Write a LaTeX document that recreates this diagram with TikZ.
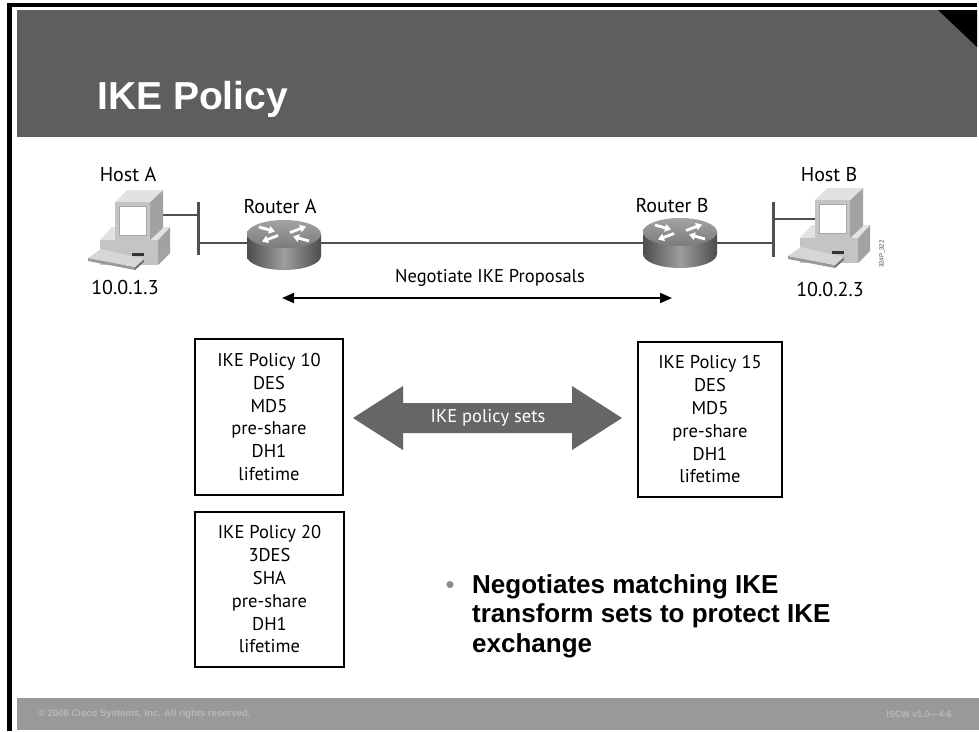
\documentclass[tikz,border=0pt]{standalone}
\usepackage{fontspec}
\setmainfont{PT Sans}
\newfontfamily\arialfont{Liberation Sans}
\usetikzlibrary{arrows.meta}
\definecolor{headgray}{HTML}{5E5E5E}
\definecolor{footgray}{HTML}{999999}
\definecolor{foottext}{HTML}{B8B8B8}
\definecolor{linkgray}{HTML}{505050}
\definecolor{bigarrow}{HTML}{666666}
\definecolor{pcfront}{HTML}{C4C4C4}
\definecolor{pctop}{HTML}{E2E2E2}
\definecolor{pcside}{HTML}{A2A2A2}
\definecolor{kbtop}{HTML}{D6D6D6}
\tikzset{
  label/.style={font=\fontsize{20}{24}\selectfont, inner sep=0pt},
  midlabel/.style={font=\fontsize{18.5}{22}\selectfont, inner sep=0pt},
  policybox/.style={draw=black, line width=2.6pt, align=center, inner sep=0pt,
    font=\fontsize{18.5}{22.8}\selectfont},
  link/.style={draw=linkgray, line width=2.6pt},
  bar/.style={draw=linkgray, line width=3pt},
  pc/.pic={
    % system unit
    \fill[pcside] (70,55) -- (82,42) -- (82,68) -- (70,80) -- cycle;
    \fill[pctop] (12,55) -- (24,42) -- (82,42) -- (70,55) -- cycle;
    \fill[pcfront] (12,55) rectangle (70,80);
    \fill[black!80] (44,68) rectangle (56,71);
    % monitor
    \fill[pcside] (62,17) -- (75,5) -- (75,43) -- (62,55) -- cycle;
    \fill[pctop] (27,17) -- (39,5) -- (75,5) -- (62,17) -- cycle;
    \fill[pcfront] (27,17) rectangle (62,55);
    \fill[white] (31,21) rectangle (58,50);
    \draw[black!35, line width=0.6pt] (31,21) rectangle (58,50);
    % keyboard
    \fill[black!40] (0,73) -- (47,82) -- (47,85) -- (0,76) -- cycle;
    \fill[black!55] (47,82) -- (56,74) -- (56,77) -- (47,85) -- cycle;
    \fill[kbtop] (0,73) -- (13,64) -- (56,74) -- (47,82) -- cycle;
  },
  router/.pic={
    \shade[left color=black!70, right color=black!70, middle color=black!38]
      (-37,0) -- (-37,22) arc[start angle=180, end angle=360, x radius=37pt, y radius=14pt]
      -- (37,0) -- cycle;
    \shade[top color=black!36, bottom color=black!52] (0,0) ellipse[x radius=37pt, y radius=14pt];
    \begin{scope}[white, line width=2.8pt, -{Triangle[length=6pt,width=7.5pt]}]
      \draw (-25,-7) -- (-9,-2.5);
      \draw (25,7) -- (9,2.5);
      \draw (6,-1.5) -- (22,-7.5);
      \draw (-6,1.5) -- (-22,7.5);
    \end{scope}
  }
}
\begin{document}
\begin{tikzpicture}[x=1pt, y=-1pt]
\useasboundingbox (0,0) rectangle (979,731);
\fill[white] (0,0) rectangle (979,731);

% slide frame, header and footer
\fill[black] (7,3) rectangle (977,7);
\fill[black] (7,3) rectangle (12,731);
\fill[headgray] (17,10) rectangle (977,137);
\fill[black] (938,10) -- (977,10) -- (977,47) -- cycle;
\fill[footgray] (17,698) rectangle (979,730);

\node[anchor=base west, inner sep=0pt, text=white,
      font=\arialfont\bfseries\fontsize{39}{44}\selectfont] (title) at (97,109) {IKE Policy};

\node[anchor=west, inner sep=0pt, text=foottext,
      font=\arialfont\bfseries\fontsize{9.5}{11}\selectfont] (copy) at (38,714)
      {© 2006 Cisco Systems, Inc. All rights reserved.};
\node[anchor=east, inner sep=0pt, text=foottext,
      font=\arialfont\bfseries\fontsize{9}{11}\selectfont] (pageid) at (952,714)
      {ISCW v1.0—4-6};

% network topology
\coordinate (pcAport) at (163,215);
\coordinate (barAtop) at (198,202);
\coordinate (barAbot) at (198,255);
\coordinate (barAmid) at (198,243);
\coordinate (barAup) at (198,215);
\coordinate (rA) at (284,234);
\coordinate (rB) at (680,232);
\coordinate (barBtop) at (773,202);
\coordinate (barBbot) at (773,257);
\coordinate (barBmid) at (773,243);
\coordinate (barBup) at (773,219);
\coordinate (pcBport) at (815,219);

\draw[link] (pcAport) -- (barAup);
\draw[link] (barAmid) -- (rA |- barAmid) -- (rB |- barAmid) -- (barBmid);
\draw[link] (barBup) -- (pcBport);
\draw[bar] (barAtop) -- (barAbot);
\draw[bar] (barBtop) -- (barBbot);

\pic at (88,185) {pc};
\pic at (788,183) {pc};
\pic at (rA) {router};
\pic at (rB) {router};

\node[label] (hostA) at (128,175) {Host A};
\node[label] (hostB) at (829,175) {Host B};
\node[label] (routerA) at (280,207) {Router A};
\node[label] (routerB) at (672,206) {Router B};
\node[label] (ipA) at (125,287) {10.0.1.3};
\node[label] (ipB) at (830,289) {10.0.2.3};
\node[inner sep=0pt, rotate=90, text=black!75, font=\arialfont\fontsize{6}{7}\selectfont]
  (figid) at (882,254) {324P\_322};

% IKE proposal negotiation
\coordinate (negL) at (282,298);
\coordinate (negR) at (672,298);
\draw[line width=2pt, {Triangle[length=12pt,width=10pt]}-{Triangle[length=12pt,width=10pt]}]
  (negL) -- (negR);
\node[midlabel] (negtxt) at (490,278) {Negotiate IKE Proposals};

% policy sets
\node[policybox, minimum width=148, minimum height=156] (p10) at (269,417)
  {IKE Policy 10\\DES\\MD5\\pre-share\\DH1\\lifetime};
\node[policybox, minimum width=144, minimum height=155] (p15) at (710,419.5)
  {IKE Policy 15\\DES\\MD5\\pre-share\\DH1\\lifetime};
\node[policybox, minimum width=149, minimum height=155] (p20) at (269.5,589.5)
  {IKE Policy 20\\3DES\\SHA\\pre-share\\DH1\\lifetime};

\fill[bigarrow] (353,418) -- (403,386) -- (403,403) -- (572,403) -- (572,386)
  -- (622,418) -- (572,450) -- (572,433) -- (403,433) -- (403,450) -- cycle;
\node[midlabel, text=white] (sets) at (488,418) {IKE policy sets};

% bullet point
\node[anchor=base, inner sep=0pt, text=black!45,
      font=\arialfont\fontsize{25.5}{29.5}\selectfont] (dot) at (450,593) {•};
\node[anchor=north west, inner sep=0pt, align=left,
      font=\arialfont\bfseries\fontsize{26}{29.5}\selectfont] (point) at (472,574)
  {Negotiates matching IKE\\transform sets to protect IKE\\exchange};
\end{tikzpicture}
\end{document}
